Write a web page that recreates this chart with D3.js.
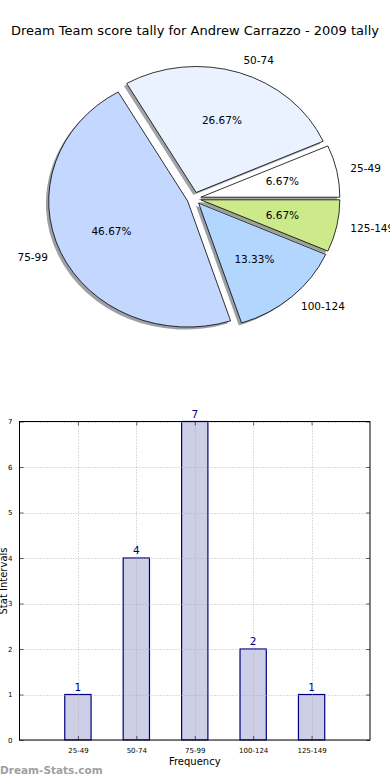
<!DOCTYPE html>
<html>
<head>
<meta charset="utf-8">
<script src="https://cdn.jsdelivr.net/npm/d3@7"></script>
<style>
  html, body { margin: 0; padding: 0; background: #fff; }
  svg { display: block; font-family: "DejaVu Sans", sans-serif; }
</style>
</head>
<body>
<svg id="chart" width="390" height="780"></svg>
<script>
// ---- data ----
const title = "Dream Team score tally for Andrew Carrazzo - 2009 tally";
const categories = ["25-49", "50-74", "75-99", "100-124", "125-149"];
const counts = [1, 4, 7, 2, 1];
const pieColors = ["#ffffff", "#eaf1ff", "#c4d8ff", "#b3d6ff", "#cdea8b"];
const yTicks = [0, 1, 2, 3, 4, 5, 6, 7];
const xLabel = "Frequency";
const yLabel = "Stat Intervals";
const watermark = "Dream-Stats.com";

(function () {
const svg = d3.select("#chart");

// ---- title ----
const t = svg.append("text")
  .attr("x", 195).attr("y", 35)
  .attr("text-anchor", "middle")
  .attr("font-size", 13)
  .attr("fill", "#000")
  .text(title);
const tw = t.node().getComputedTextLength();
t.attr("font-size", 13 * 368 / tw);

// ---- pie (matplotlib-style, elliptical, exploded, with shadow) ----
const cx = 194, cy = 198.5, sx = 139, sy = 126, explode = 0.05;
const total = d3.sum(counts);
const pie = d3.pie().sort(null).startAngle(0).endAngle(2 * Math.PI)(counts);
const arc = d3.arc().innerRadius(0).outerRadius(1);
const pieG = svg.append("g");

const slices = pie.map((d, i) => {
  const t1 = d.startAngle, t2 = d.endAngle;   // ccw from east (mpl convention)
  const tm = (t1 + t2) / 2;
  return {
    i, t1, t2, tm,
    arcD: arc({ startAngle: Math.PI / 2 - t2, endAngle: Math.PI / 2 - t1 }),
    ox: cx + sx * explode * Math.cos(tm),
    oy: cy - sy * explode * Math.sin(tm)
  };
});

// shadows
slices.forEach(s => {
  const c = d3.rgb(pieColors[s.i]);
  pieG.append("path")
    .attr("d", s.arcD)
    .attr("transform", `translate(${s.ox - 0.02 * sx},${s.oy + 0.02 * sy}) scale(${sx},${sy})`)
    .attr("fill", d3.rgb(c.r * 0.3, c.g * 0.3, c.b * 0.3))
    .attr("fill-opacity", 0.5)
    .attr("stroke", "none");
});
// wedges
slices.forEach(s => {
  pieG.append("path")
    .attr("d", s.arcD)
    .attr("transform", `translate(${s.ox},${s.oy}) scale(${sx},${sy})`)
    .attr("fill", pieColors[s.i])
    .attr("stroke", "#000")
    .attr("stroke-width", 0.8)
    .attr("vector-effect", "non-scaling-stroke")
    .attr("stroke-linejoin", "round");
});
// labels
slices.forEach(s => {
  const c = Math.cos(s.tm), sn = Math.sin(s.tm);
  pieG.append("text")
    .attr("x", s.ox + sx * 1.1 * c)
    .attr("y", s.oy - sy * 1.1 * sn)
    .attr("dy", "0.35em")
    .attr("text-anchor", c > 0 ? "start" : "end")
    .attr("font-size", 10.5)
    .text(categories[s.i]);
  pieG.append("text")
    .attr("x", s.ox + sx * 0.6 * c)
    .attr("y", s.oy - sy * 0.6 * sn)
    .attr("dy", "0.35em")
    .attr("text-anchor", "middle")
    .attr("font-size", 10.5)
    .text((counts[s.i] / total * 100).toFixed(2) + "%");
});

// ---- bar chart ----
const pL = 19.5, pR = 370, pT = 421.5, pB = 740;
const x = d3.scaleLinear().domain([-1, 5]).range([pL, pR]);
const y = d3.scaleLinear().domain([0, 7]).range([pB, pT]);
const barW = 0.45;
const bg = svg.append("g");

// bars
bg.selectAll("rect.bar").data(counts).join("rect")
  .attr("class", "bar")
  .attr("x", (d, i) => x(i - barW / 2))
  .attr("width", x(barW) - x(0))
  .attr("y", d => y(d))
  .attr("height", d => y(0) - y(d))
  .attr("fill", "#cdcfe6")
  .attr("stroke", "#000080")
  .attr("stroke-width", 1.2);

// grid
const gridG = bg.append("g").attr("stroke", "#aaa").attr("stroke-width", 1)
  .attr("stroke-dasharray", "1,2").attr("opacity", 0.8);
yTicks.forEach(v => {
  gridG.append("line").attr("x1", pL).attr("x2", pR)
    .attr("y1", Math.round(y(v)) + 0.5).attr("y2", Math.round(y(v)) + 0.5);
});
categories.forEach((c, i) => {
  gridG.append("line").attr("y1", pT).attr("y2", pB)
    .attr("x1", Math.round(x(i)) + 0.5).attr("x2", Math.round(x(i)) + 0.5);
});

// frame
bg.append("rect").attr("x", pL).attr("y", pT)
  .attr("width", pR - pL).attr("height", pB - pT)
  .attr("fill", "none").attr("stroke", "#000").attr("stroke-width", 1);

// axes (inward ticks)
const yAxis = d3.axisLeft(y).tickValues(yTicks).tickSize(-4).tickPadding(7).tickFormat(d3.format("d"));
const yg = bg.append("g").attr("transform", `translate(${pL},0)`).call(yAxis);
const xAxis = d3.axisBottom(x).tickValues(d3.range(categories.length)).tickSize(-4).tickPadding(8)
  .tickFormat(i => categories[i]);
const xg = bg.append("g").attr("transform", `translate(0,${pB})`).call(xAxis);
[yg, xg].forEach(g => {
  g.select(".domain").remove();
  g.selectAll(".tick line").attr("stroke", "#000").attr("stroke-width", 0.6);
  g.selectAll(".tick text").attr("font-size", 7).attr("fill", "#000")
    .attr("font-family", "DejaVu Sans, sans-serif");
});
// right/top inward ticks
bg.append("g").attr("transform", `translate(${pR},0)`)
  .call(d3.axisRight(y).tickValues(yTicks).tickSize(-4).tickFormat(""))
  .call(g => { g.select(".domain").remove(); g.selectAll(".tick line").attr("stroke", "#000").attr("stroke-width", 0.6); });
bg.append("g").attr("transform", `translate(0,${pT})`)
  .call(d3.axisTop(x).tickValues(d3.range(categories.length)).tickSize(-4).tickFormat(""))
  .call(g => { g.select(".domain").remove(); g.selectAll(".tick line").attr("stroke", "#000").attr("stroke-width", 0.6); });

// value labels
bg.selectAll("text.val").data(counts).join("text")
  .attr("class", "val")
  .attr("x", (d, i) => x(i))
  .attr("y", d => y(d) - 4)
  .attr("text-anchor", "middle")
  .attr("font-size", 10.5)
  .attr("fill", "#000080")
  .text(d => d);

// axis labels
svg.append("text").attr("x", (pL + pR) / 2).attr("y", 765)
  .attr("text-anchor", "middle").attr("font-size", 10).text(xLabel);
svg.append("text")
  .attr("transform", `translate(7,581) rotate(-90)`)
  .attr("text-anchor", "middle").attr("font-size", 10).text(yLabel);

// watermark
svg.append("text").attr("x", 0).attr("y", 774)
  .attr("font-size", 10.5).attr("font-weight", "bold").attr("fill", "#a0a0a0")
  .text(watermark);
})();
</script>
</body>
</html>
